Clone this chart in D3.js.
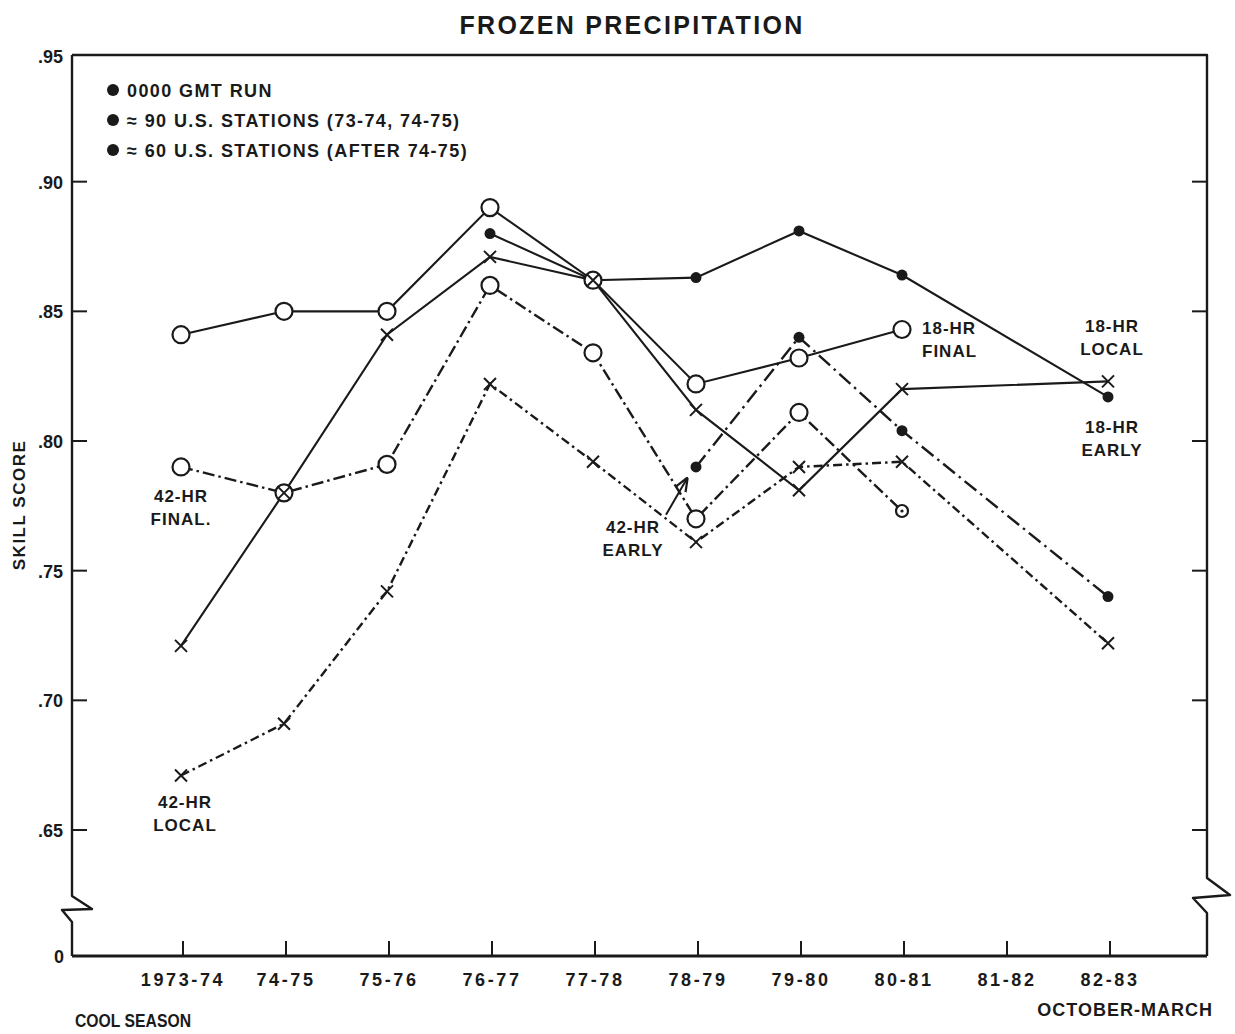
<!DOCTYPE html>
<html>
<head>
<meta charset="utf-8">
<script src="https://cdn.jsdelivr.net/npm/d3@7"></script>
<style>
  html, body { margin: 0; padding: 0; background: #fff; }
  svg { display: block; font-family: "Liberation Sans", Arial, sans-serif; }
</style>
</head>
<body>
<svg id="chart" width="1235" height="1034"></svg>
<script>
// ---- data ----
const seasons = ["1973-74","74-75","75-76","76-77","77-78","78-79","79-80","80-81","81-82","82-83"];
const yTicks = [0.65, 0.70, 0.75, 0.80, 0.85, 0.90, 0.95];
const yTickLabels = [".65", ".70", ".75", ".80", ".85", ".90", ".95"];

const final18 = [0.841, 0.850, 0.850, 0.890, 0.862, 0.822, 0.832, 0.843, null, null];
const early18 = [null, null, null, 0.880, 0.862, 0.863, 0.881, 0.864, null, 0.817];
const local18 = [0.721, 0.780, 0.841, 0.871, 0.862, 0.812, 0.781, 0.820, null, 0.823];
const final42 = [0.790, 0.780, 0.791, 0.860, 0.834, 0.770, 0.811, 0.773, null, null];
const early42 = [null, null, null, null, null, 0.790, 0.840, 0.804, null, 0.740];
const local42 = [0.671, 0.691, 0.742, 0.822, 0.792, 0.761, 0.790, 0.792, null, 0.722];
const final42SmallMarker = ["80-81"];

const legendItems = ["0000 GMT RUN", "\u2248 90 U.S. STATIONS (73-74, 74-75)", "\u2248 60 U.S. STATIONS (AFTER 74-75)"];

// ---- layout ----
const svg = d3.select("#chart");
const plotLeft = 72, plotRight = 1207;
const x = d3.scalePoint().domain(seasons).range([181, 1108]);
const y = d3.scaleLinear().domain([0.65, 0.95]).range([830, 52]);
const frameTop = y(0.95) + 3;
const base = y(0.65) + 126;
const ink = "#1a1a1a";

// ---- frame ----
const frame = svg.append("g").attr("fill", "none").attr("stroke", ink).attr("stroke-width", 2.4)
  .attr("stroke-linejoin", "round");
frame.append("path").attr("d", d3.line()([
  [plotLeft, frameTop], [plotRight, frameTop], [plotRight, base - 78], [plotRight + 23, base - 61],
  [plotRight - 14, base - 58], [plotRight, base - 43], [plotRight, base]
]));
frame.append("path").attr("d", d3.line()([
  [plotLeft, frameTop], [plotLeft, base - 60], [plotLeft + 20, base - 47], [plotLeft - 10, base - 46],
  [plotLeft, base - 34], [plotLeft, base]
]));
frame.append("line").attr("x1", plotLeft).attr("x2", plotRight).attr("y1", base).attr("y2", base)
  .attr("stroke-width", 2.8);

// y ticks left and right (inward)
const yt = svg.append("g").attr("stroke", ink).attr("stroke-width", 2);
yTicks.forEach(v => {
  if (v < 0.95) {
    yt.append("line").attr("x1", plotLeft).attr("x2", plotLeft + 15).attr("y1", y(v)).attr("y2", y(v));
    yt.append("line").attr("x1", plotRight).attr("x2", plotRight - 15).attr("y1", y(v)).attr("y2", y(v));
  }
});
svg.append("g").selectAll("text").data(yTicks).join("text")
  .attr("x", plotLeft - 9).attr("y", d => y(d) + 7 + (d === 0.95 ? 4 : 0))
  .attr("text-anchor", "end").attr("font-size", 18).attr("font-weight", "bold").attr("fill", ink)
  .text((d, i) => yTickLabels[i]);
svg.append("text").attr("x", plotLeft - 8).attr("y", base + 7).attr("text-anchor", "end")
  .attr("font-size", 18).attr("font-weight", "bold").attr("fill", ink).text("0");

// x ticks (upward) and labels
svg.append("g").attr("stroke", ink).attr("stroke-width", 2).selectAll("line").data(seasons).join("line")
  .attr("x1", d => x(d) + 2).attr("x2", d => x(d) + 2).attr("y1", base).attr("y2", base - 15);
svg.append("g").selectAll("text").data(seasons).join("text")
  .attr("x", d => x(d) + 2).attr("y", base + 30)
  .attr("text-anchor", "middle").attr("font-size", 18).attr("font-weight", "bold")
  .attr("letter-spacing", 2.6).attr("fill", ink).text(d => d);

// titles
svg.append("text").attr("x", 632).attr("y", 34).attr("text-anchor", "middle")
  .attr("font-size", 25).attr("font-weight", "bold").attr("letter-spacing", 2.3).attr("fill", ink)
  .text("FROZEN PRECIPITATION");
svg.append("text").attr("transform", "translate(25,505) rotate(-90)").attr("text-anchor", "middle")
  .attr("font-size", 17).attr("font-weight", "bold").attr("letter-spacing", 1.5).attr("fill", ink)
  .text("SKILL SCORE");
svg.append("text").attr("x", 75).attr("y", 1027).attr("font-size", 19).attr("font-weight", "bold")
  .attr("textLength", 116).attr("lengthAdjust", "spacingAndGlyphs")
  .attr("fill", ink).text("COOL SEASON");
svg.append("text").attr("x", 1213).attr("y", 1016).attr("text-anchor", "end").attr("font-size", 18)
  .attr("font-weight", "bold").attr("letter-spacing", 1).attr("fill", ink).text("OCTOBER-MARCH");

// ---- legend ----
const lg = svg.append("g");
legendItems.forEach((t, i) => {
  lg.append("circle").attr("cx", 113).attr("cy", 90 + i * 30).attr("r", 6).attr("fill", ink);
  lg.append("text").attr("x", 127).attr("y", 96.5 + i * 30).attr("font-size", 18).attr("font-weight", "bold")
    .attr("letter-spacing", 1.4).attr("fill", ink).text(t);
});

// ---- series ----
const series = [
  { vals: final18, dash: null, marker: "circle" },
  { vals: early18, dash: null, marker: "dot" },
  { vals: local18, dash: null, marker: "x" },
  { vals: final42, dash: "12,4,2.5,4", marker: "circle" },
  { vals: early42, dash: "15,5,2.5,5", marker: "dot" },
  { vals: local42, dash: "9,4,2.5,4", marker: "x" }
];
const line = d3.line().x(d => x(d.s)).y(d => y(d.v));
const pts = s => seasons.map((k, i) => ({ s: k, v: s.vals[i] })).filter(d => d.v != null);

const lines = svg.append("g").attr("fill", "none").attr("stroke", ink);
series.forEach(s => {
  lines.append("path").attr("d", line(pts(s)))
    .attr("stroke-width", s.dash ? 2.4 : 2.1)
    .attr("stroke-dasharray", s.dash);
});

const mk = svg.append("g");
series.filter(s => s.marker === "dot").forEach(s => {
  mk.append("g").selectAll("circle").data(pts(s)).join("circle")
    .attr("cx", d => x(d.s)).attr("cy", d => y(d.v)).attr("r", 5.5).attr("fill", ink);
});
series.filter(s => s.marker === "circle").forEach(s => {
  mk.append("g").selectAll("circle").data(pts(s)).join("circle")
    .attr("cx", d => x(d.s)).attr("cy", d => y(d.v))
    .attr("r", d => (s.vals === final42 && final42SmallMarker.includes(d.s)) ? 6 : 8.5)
    .attr("fill", "#fff").attr("stroke", ink).attr("stroke-width", 2.2);
});
pts(series[3]).filter(d => final42SmallMarker.includes(d.s)).forEach(d => {
  mk.append("circle").attr("cx", x(d.s)).attr("cy", y(d.v)).attr("r", 1.6).attr("fill", ink);
});
series.filter(s => s.marker === "x").forEach(s => {
  mk.append("g").selectAll("path").data(pts(s)).join("path")
    .attr("d", d => {
      const cx = x(d.s), cy = y(d.v), a = 6;
      return `M${cx - a},${cy - a}L${cx + a},${cy + a}M${cx - a},${cy + a}L${cx + a},${cy - a}`;
    })
    .attr("stroke", ink).attr("stroke-width", 2).attr("fill", "none");
});

// ---- annotations ----
const ann = svg.append("g").attr("font-size", 17).attr("font-weight", "bold")
  .attr("letter-spacing", 1).attr("fill", ink);
function label(textLines, cx, cy, anchor) {
  textLines.forEach((t, i) => ann.append("text").attr("x", cx).attr("y", cy + i * 23)
    .attr("text-anchor", anchor || "middle").text(t));
}
label(["42-HR", "FINAL."], x("1973-74"), y(0.790) + 35);
label(["42-HR", "LOCAL"], x("1973-74") + 4, y(0.671) + 32);
label(["42-HR", "EARLY"], x("78-79") - 63, y(0.770) + 14);
label(["18-HR", "FINAL"], x("80-81") + 20, y(0.843) + 5, "start");
label(["18-HR", "LOCAL"], x("82-83") + 4, y(0.823) - 49);
label(["18-HR", "EARLY"], x("82-83") + 4, y(0.817) + 36);

svg.append("defs").append("marker").attr("id", "ah").attr("viewBox", "0 0 10 10")
  .attr("refX", 9).attr("refY", 5).attr("markerWidth", 7).attr("markerHeight", 7).attr("orient", "auto")
  .append("path").attr("d", "M0,1L10,5L0,9").attr("fill", "none").attr("stroke", ink).attr("stroke-width", 1.6);
svg.append("line")
  .attr("x1", x("78-79") - 30).attr("y1", y(0.770) - 4)
  .attr("x2", x("78-79") - 9).attr("y2", y(0.7855))
  .attr("stroke", ink).attr("stroke-width", 2).attr("marker-end", "url(#ah)");
</script>
</body>
</html>
